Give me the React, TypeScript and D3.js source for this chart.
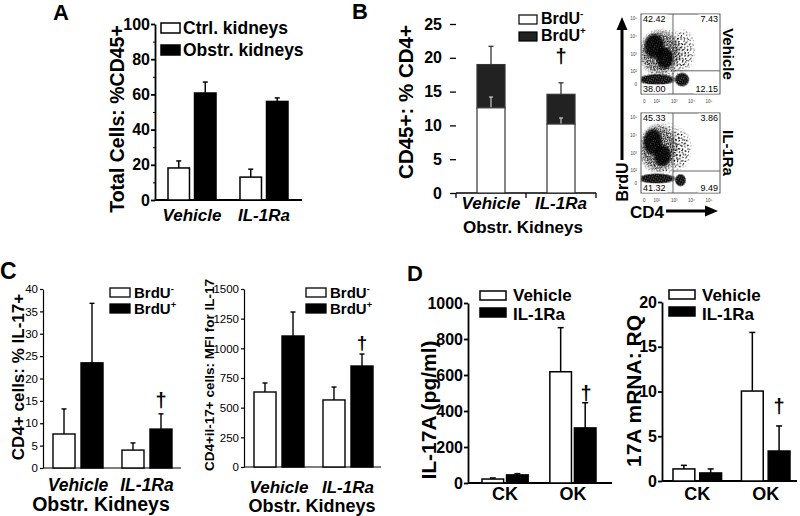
import { useEffect, useRef } from 'react';
import * as d3 from 'd3';

const FONT = '"Liberation Sans", Arial, Helvetica, sans-serif';

// A: total CD45+ cells
const groupsA = ['Vehicle', 'IL-1Ra'];
const legendA = ['Ctrl. kidneys', 'Obstr. kidneys'];
const ctrlA = [18.2, 13.0];
const ctrlErrA = [4.0, 4.5];
const obstrA = [60.8, 56.0];
const obstrErrA = [6.2, 2.0];
const ticksA = [0, 20, 40, 60, 80, 100];
const minorA = [10, 30, 50, 70, 90];

// B: CD45+ % CD4+, stacked BrdU- / BrdU+
const groupsB = ['Vehicle', 'IL-1Ra'];
const brduNegB = [12.6, 10.2];
const brduNegErrB = [1.6, 0.9];
const brduTotalB = [19.0, 14.6];
const brduTotalErrB = [2.7, 1.7];
const ticksB = [0, 5, 10, 15, 20, 25];

// B: flow plots (quadrants: UL, UR, LL, LR)
const flowNames = ['Vehicle', 'IL-1Ra'];
const vehicleQuadrants = ['42.42', '7.43', '38.00', '12.15'];
const il1raQuadrants = ['45.33', '3.86', '41.32', '9.49'];
const flowDecadeLabels = ['0', '10²', '10³', '10⁴', '10⁵'];
const flowDecades = [0.04, 0.2, 0.42, 0.64, 0.86];
const flowGateX = 0.405;
const flowGateY = [0.29, 0.275];
// cell populations in plot units, d = density class 0..2
const vehicleCells = [
  { u: 0.54, v: 0.55, ru: 0.16, rv: 0.28, d: 0 },
  { u: 0.3, v: 0.5, ru: 0.36, rv: 0.34, d: 0 },
  { u: 0.24, v: 0.52, ru: 0.28, rv: 0.3, d: 1 },
  { u: 0.17, v: 0.6, ru: 0.14, rv: 0.17, d: 2 },
  { u: 0.3, v: 0.45, ru: 0.12, rv: 0.15, d: 2 },
  { u: 0.2, v: 0.18, ru: 0.26, rv: 0.075, d: 2 },
  { u: 0.52, v: 0.18, ru: 0.1, rv: 0.095, d: 2 },
];
const il1raCells = [
  { u: 0.5, v: 0.55, ru: 0.15, rv: 0.27, d: 0 },
  { u: 0.28, v: 0.55, ru: 0.34, rv: 0.36, d: 0 },
  { u: 0.22, v: 0.56, ru: 0.26, rv: 0.32, d: 1 },
  { u: 0.15, v: 0.64, ru: 0.13, rv: 0.18, d: 2 },
  { u: 0.27, v: 0.47, ru: 0.12, rv: 0.15, d: 2 },
  { u: 0.2, v: 0.18, ru: 0.26, rv: 0.07, d: 2 },
  { u: 0.5, v: 0.16, ru: 0.075, rv: 0.085, d: 2 },
];

// C left: % IL-17+
const groupsC = ['Vehicle', 'IL-1Ra'];
const negC1 = [7.6, 4.0];
const negErrC1 = [5.6, 1.6];
const posC1 = [23.5, 8.7];
const posErrC1 = [13.3, 3.4];
const ticksC1 = [0, 5, 10, 15, 20, 25, 30, 35, 40];

// C right: MFI for IL-17
const negC2 = [632, 565];
const negErrC2 = [76, 109];
const posC2 = [1104, 851];
const posErrC2 = [202, 101];
const ticksC2 = [0, 250, 500, 750, 1000, 1250, 1500];

// D: IL-17A
const groupsD = ['CK', 'OK'];
const legendD = ['Vehicle', 'IL-1Ra'];
const vehD1 = [22, 618];
const vehErrD1 = [6, 245];
const ilD1 = [45, 306];
const ilErrD1 = [7, 140];
const ticksD1 = [0, 200, 400, 600, 800, 1000];
const vehD2 = [1.35, 10.05];
const vehErrD2 = [0.4, 6.55];
const ilD2 = [0.9, 3.35];
const ilErrD2 = [0.45, 2.8];
const ticksD2 = [0, 5, 10, 15, 20];

type Series = { values: number[]; errs: number[]; fill: string };

export default function App() {
  const ref = useRef<SVGSVGElement>(null);

  useEffect(() => {
    if (!ref.current) return;
    const svg = d3.select(ref.current);
    svg.selectAll('*').remove();
    svg.attr('font-family', FONT);
    svg.append('rect').attr('width', 800).attr('height', 516).attr('fill', '#fff');

    const defs = svg.append('defs');
    const dotPattern = (id: string, size: number, r: number, pts: number[][], angle: number) => {
      const p = defs.append('pattern').attr('id', id).attr('patternUnits', 'userSpaceOnUse')
        .attr('width', size).attr('height', size).attr('patternTransform', `rotate(${angle})`);
      pts.forEach(([x, y]) => p.append('circle').attr('cx', x).attr('cy', y).attr('r', r).attr('fill', '#000'));
    };
    // stipple textures for the dot clouds (two layers each, crossed angles)
    dotPattern('dots0a', 6.5, 0.6, [[1, 1.5], [4.2, 0.7], [2.4, 4.6], [5.4, 3.8]], 23);
    dotPattern('dots0b', 7.5, 0.6, [[2, 2.5], [6, 1.2], [3.6, 6]], -41);
    dotPattern('dots1a', 4, 0.65, [[0.6, 0.9], [2.5, 0.4], [1.6, 2.5], [3.4, 3.1]], 17);
    dotPattern('dots1b', 4.6, 0.6, [[1.2, 1.9], [3.7, 1.2], [2.5, 3.9]], -53);
    dotPattern('dots2a', 2.6, 0.75, [[0.5, 0.6], [1.8, 0.3], [1.1, 1.7], [2.2, 2.1]], 31);
    dotPattern('dots2b', 3, 0.7, [[0.9, 1.3], [2.4, 0.6], [1.8, 2.5]], -37);
    const grad = defs.append('radialGradient').attr('id', 'fade');
    grad.append('stop').attr('offset', '0%').attr('stop-color', '#fff');
    grad.append('stop').attr('offset', '70%').attr('stop-color', '#fff');
    grad.append('stop').attr('offset', '100%').attr('stop-color', '#000');
    defs.append('mask').attr('id', 'soft').attr('maskContentUnits', 'objectBoundingBox')
      .append('rect').attr('width', 1).attr('height', 1).attr('fill', 'url(#fade)');

    const text = (x: number, y: number, s: string, size: number, opts: { weight?: string; anchor?: string; italic?: boolean; rotate?: number; fill?: string } = {}) => {
      const t = svg.append('text').attr('x', x).attr('y', y).attr('font-size', size)
        .attr('font-weight', opts.weight ?? 'bold').attr('text-anchor', opts.anchor ?? 'start')
        .attr('font-style', opts.italic ? 'italic' : 'normal').attr('fill', opts.fill ?? '#000').text(s);
      if (opts.rotate) t.attr('transform', `rotate(${opts.rotate},${x},${y})`);
      return t;
    };

    const line = (x1: number, y1: number, x2: number, y2: number, sw = 1.5, color = '#000') =>
      svg.append('line').attr('x1', x1).attr('y1', y1).attr('x2', x2).attr('y2', y2).attr('stroke', color).attr('stroke-width', sw);

    const errBar = (cx: number, y1: number, y2: number, sw: number, cap: number, color = '#000') => {
      line(cx, y1, cx, y2, sw, color);
      line(cx - cap / 2, y2, cx + cap / 2, y2, sw, color);
    };

    const yAxis = (x: number, y: d3.ScaleLinear<number, number>, ticks: number[], size: number, weight: string, tick: number, pad: number, sw: number, domain = true) => {
      const g = svg.append('g').attr('transform', `translate(${x},0)`)
        .call(d3.axisLeft(y).tickValues(ticks).tickSize(tick).tickPadding(pad).tickSizeOuter(0).tickFormat(d3.format('d')));
      g.attr('font-family', FONT).attr('font-size', size).attr('font-weight', weight);
      g.selectAll('line').attr('stroke-width', sw);
      g.select('.domain').attr('stroke-width', sw);
      if (!domain) g.select('.domain').remove();
      return g;
    };

    const groupedBars = (groups: string[], series: Series[], range: [number, number], padG: number, padS: number,
      y: d3.ScaleLinear<number, number>, sw: number, cap: number) => {
      const xg = d3.scaleBand().domain(groups).range(range).paddingInner(padG).paddingOuter(0);
      const xs = d3.scaleBand<number>().domain(series.map((_, i) => i)).range([0, xg.bandwidth()]).paddingInner(padS);
      series.forEach((s, si) => {
        groups.forEach((grp, gi) => {
          const x = (xg(grp) ?? 0) + (xs(si) ?? 0);
          const w = xs.bandwidth();
          const v = s.values[gi];
          errBar(x + w / 2, y(v), y(v + s.errs[gi]), sw, cap);
          svg.append('rect').attr('x', x).attr('y', y(v)).attr('width', w).attr('height', y(0) - y(v))
            .attr('fill', s.fill).attr('stroke', '#000').attr('stroke-width', sw);
        });
      });
      return xg;
    };

    const box = (x: number, y: number, w: number, h: number, fill: string, sw = 1.5) =>
      svg.append('rect').attr('x', x).attr('y', y).attr('width', w).attr('height', h)
        .attr('fill', fill).attr('stroke', '#000').attr('stroke-width', sw);

    const brdu = (x: number, y: number, sign: string, size: number) => {
      const t = text(x, y, 'BrdU', size);
      t.append('tspan').attr('dy', -size * 0.42).attr('font-size', size * 0.62).text(sign);
    };

    // ---------- Panel A ----------
    text(53, 20, 'A', 22);
    const yA = d3.scaleLinear().domain([0, 100]).range([200, 24]);
    yAxis(155, yA, ticksA, 16, 'bold', 4, 1, 1.8);
    svg.append('g').attr('transform', 'translate(155,0)')
      .call(d3.axisLeft(yA).tickValues(minorA).tickSize(2).tickFormat(() => '').tickSizeOuter(0))
      .call(g => g.select('.domain').remove());
    line(155, 200, 302, 200, 1.8);
    const xA = groupedBars(groupsA, [
      { values: ctrlA, errs: ctrlErrA, fill: '#fff' },
      { values: obstrA, errs: obstrErrA, fill: '#000' },
    ], [168, 288], 0.333, 0.19, yA, 1.5, 5);
    groupsA.forEach(g => text((xA(g) ?? 0) + xA.bandwidth() / 2, 221, g, 17, { anchor: 'middle', italic: true }));
    box(161, 23, 19, 10, '#fff');
    box(161, 45, 19, 10, '#000');
    text(183, 34, legendA[0], 17.5);
    text(183, 56, legendA[1], 17.5);
    text(124, 119, 'Total Cells: %CD45+', 19.5, { anchor: 'middle', rotate: -90 });

    // ---------- Panel B ----------
    text(352, 19, 'B', 22);
    const yB = d3.scaleLinear().domain([0, 25]).range([193, 24]);
    yAxis(456, yB, ticksB, 16, 'bold', 6, 8, 1.3, false);
    line(456, 193, 596, 193, 1.3);
    [456, 526, 596].forEach(x => line(x, 193, x, 198, 1.3));
    const xB = d3.scaleBand().domain(groupsB).range([477, 575]).paddingInner(0.6).paddingOuter(0);
    groupsB.forEach((g, i) => {
      const x = xB(g) ?? 0;
      const w = xB.bandwidth();
      const cx = x + w / 2;
      errBar(cx, yB(brduTotalB[i]), yB(brduTotalB[i] + brduTotalErrB[i]), 1.3, 5, '#333');
      svg.append('rect').attr('x', x).attr('y', yB(brduTotalB[i])).attr('width', w)
        .attr('height', yB(brduNegB[i]) - yB(brduTotalB[i])).attr('fill', '#222').attr('stroke', '#333').attr('stroke-width', 1.2);
      svg.append('rect').attr('x', x).attr('y', yB(brduNegB[i])).attr('width', w)
        .attr('height', yB(0) - yB(brduNegB[i])).attr('fill', '#fff').attr('stroke', '#333').attr('stroke-width', 1.2);
      errBar(cx, yB(brduNegB[i]) - 0.6, yB(brduNegB[i] + brduNegErrB[i]), 1.2, 4, '#ccc');
      text(cx, 209, g, 17, { anchor: 'middle', italic: true });
    });
    text((xB('IL-1Ra') ?? 0) + xB.bandwidth() / 2, 63, '†', 20, { anchor: 'middle' });
    text(523, 233, 'Obstr. Kidneys', 17, { anchor: 'middle' });
    box(519, 15, 18, 9, '#fff', 1.2);
    box(519, 32, 18, 9, '#222', 1.2);
    brdu(541, 24, '-', 16);
    brdu(541, 41, '+', 16);
    text(413, 102, 'CD45+: % CD4+', 20.5, { anchor: 'middle', rotate: -90 });

    // flow plots
    const quads = [vehicleQuadrants, il1raQuadrants];
    const cellSets = [vehicleCells, il1raCells];
    flowNames.forEach((name, i) => {
      const top = i === 0 ? 14 : 113;
      const u = d3.scaleLinear().domain([0, 1]).range([641, 720]);
      const v = d3.scaleLinear().domain([0, 1]).range([top + 80, top]);
      const clipId = `flowclip${i}`;
      defs.append('clipPath').attr('id', clipId).append('rect').attr('x', 641).attr('y', top).attr('width', 79).attr('height', 80);
      const g = svg.append('g').attr('clip-path', `url(#${clipId})`);
      [...cellSets[i]].sort((a, b) => a.d - b.d).forEach(c => {
        ['a', 'b'].forEach(layer => {
          g.append('ellipse').attr('cx', u(c.u)).attr('cy', v(c.v))
            .attr('rx', u(c.ru) - u(0)).attr('ry', v(0) - v(c.rv))
            .attr('fill', `url(#dots${c.d}${layer})`).attr('mask', 'url(#soft)');
        });
      });
      svg.append('rect').attr('x', 641).attr('y', top).attr('width', 79).attr('height', 80)
        .attr('fill', 'none').attr('stroke', '#555').attr('stroke-width', 1);
      line(u(flowGateX), top, u(flowGateX), top + 80, 0.9, '#555');
      line(u(flowGateX), v(flowGateY[i]), 720, v(flowGateY[i]), 0.9, '#555');
      const q = quads[i];
      const lab = (x: number, y: number, s: string, anchor: string) => {
        const w = s.length * 4.7 + 2;
        svg.append('rect').attr('x', anchor === 'start' ? x - 1 : x - w + 1).attr('y', y - 7.5)
          .attr('width', w).attr('height', 9).attr('fill', '#fff');
        text(x, y, s, 9, { weight: 'normal', anchor });
      };
      lab(643, top + 8, q[0], 'start');
      lab(718, top + 8, q[1], 'end');
      lab(643, top + 78, q[2], 'start');
      lab(718, top + 78, q[3], 'end');
      flowDecades.forEach((d, k) => {
        text(u(d), top + 89, flowDecadeLabels[k], 4.5, { weight: 'normal', anchor: 'middle', fill: '#444' });
        text(637, v(d + 0.06), flowDecadeLabels[k], 4.5, { weight: 'normal', anchor: 'end', fill: '#444' });
      });
      text(723, top + 40, name, 15, { anchor: 'middle', rotate: 90 });
    });
    // axis arrows
    line(622, 160, 622, 28, 3);
    svg.append('path').attr('d', 'M622,17 L616.5,30 L627.5,30 Z').attr('fill', '#000');
    text(628, 182, 'BrdU', 16, { anchor: 'middle', rotate: -90 });
    text(630, 218, 'CD4', 17);
    line(666, 211, 707, 211, 3);
    svg.append('path').attr('d', 'M718,211 L705,205.5 L705,216.5 Z').attr('fill', '#000');

    // ---------- Panel C left ----------
    text(0, 279, 'C', 23);
    const yC1 = d3.scaleLinear().domain([0, 40]).range([468, 289]);
    yAxis(43, yC1, ticksC1, 11.5, 'normal', 3, 2, 1.2);
    line(43, 468, 181, 468, 1.2);
    const xC1 = groupedBars(groupsC, [
      { values: negC1, errs: negErrC1, fill: '#fff' },
      { values: posC1, errs: posErrC1, fill: '#000' },
    ], [53, 172], 0.275, 0.214, yC1, 1.4, 5);
    groupsC.forEach(g => text((xC1(g) ?? 0) + xC1.bandwidth() / 2, 491, g, 17.5, { anchor: 'middle', italic: true }));
    text(101, 511, 'Obstr. Kidneys', 19.5, { anchor: 'middle' });
    text(161, 407, '†', 20, { anchor: 'middle' });
    box(110, 288, 20, 9, '#fff', 1.3);
    box(110, 304, 20, 9, '#000', 1.3);
    brdu(134, 298, '-', 15);
    brdu(134, 314, '+', 15);
    text(24, 377, 'CD4+ cells: % IL-17+', 17, { anchor: 'middle', rotate: -90 });

    // ---------- Panel C right ----------
    const yC2 = d3.scaleLinear().domain([0, 1500]).range([467, 289]);
    yAxis(244, yC2, ticksC2, 11.5, 'normal', 3, 2, 1.2);
    line(244, 467, 381, 467, 1.2);
    const xC2 = groupedBars(groupsC, [
      { values: negC2, errs: negErrC2, fill: '#fff' },
      { values: posC2, errs: posErrC2, fill: '#000' },
    ], [254, 373], 0.275, 0.214, yC2, 1.4, 5);
    groupsC.forEach(g => text((xC2(g) ?? 0) + xC2.bandwidth() / 2, 493, g, 17, { anchor: 'middle', italic: true }));
    text(312, 512, 'Obstr. Kidneys', 18, { anchor: 'middle' });
    text(362, 349, '†', 19, { anchor: 'middle' });
    box(306, 288, 20, 9, '#fff', 1.3);
    box(306, 304, 20, 9, '#000', 1.3);
    brdu(330, 298, '-', 15);
    brdu(330, 314, '+', 15);
    text(214, 375, 'CD4+il-17+ cells: MFI for IL-17', 13.5, { anchor: 'middle', rotate: -90 });

    // ---------- Panel D left ----------
    text(407, 281, 'D', 22);
    const yD1 = d3.scaleLinear().domain([0, 1000]).range([483, 303]);
    yAxis(468, yD1, ticksD1, 16, 'bold', 4, 1, 1.8);
    line(468, 483, 612, 483, 1.8);
    const xD1 = groupedBars(groupsD, [
      { values: vehD1, errs: vehErrD1, fill: '#fff' },
      { values: ilD1, errs: ilErrD1, fill: '#000' },
    ], [482, 596], 0.32, 0.12, yD1, 1.5, 6);
    groupsD.forEach(g => text((xD1(g) ?? 0) + xD1.bandwidth() / 2, 500, g, 18, { anchor: 'middle' }));
    text(586, 400, '†', 20, { anchor: 'middle' });
    box(480, 291, 26, 9, '#fff');
    box(480, 308, 26, 9, '#000');
    text(513, 301, legendD[0], 17);
    text(513, 320, legendD[1], 17);
    text(436, 410, 'IL-17A (pg/ml)', 21, { anchor: 'middle', rotate: -90 });

    // ---------- Panel D right ----------
    const yD2 = d3.scaleLinear().domain([0, 20]).range([481, 302]);
    yAxis(662, yD2, ticksD2, 16, 'bold', 4, 1, 1.8);
    line(662, 481, 797, 481, 1.8);
    const xD2 = groupedBars(groupsD, [
      { values: vehD2, errs: vehErrD2, fill: '#fff' },
      { values: ilD2, errs: ilErrD2, fill: '#000' },
    ], [673, 790], 0.29, 0.185, yD2, 1.5, 6);
    groupsD.forEach(g => text((xD2(g) ?? 0) + xD2.bandwidth() / 2, 500, g, 18, { anchor: 'middle' }));
    text(779, 413, '†', 20, { anchor: 'middle' });
    box(669, 290, 26, 9, '#fff');
    box(669, 307, 26, 9, '#000');
    text(702, 301, legendD[0], 17);
    text(702, 320, legendD[1], 17);
    text(641, 391, '17A mRNA: RQ', 21, { anchor: 'middle', rotate: -90 });
  }, []);

  return (
    <svg
      ref={ref}
      width={800}
      height={516}
      style={{ position: 'absolute', left: 0, top: 0, display: 'block', background: '#fff' }}
    />
  );
}
